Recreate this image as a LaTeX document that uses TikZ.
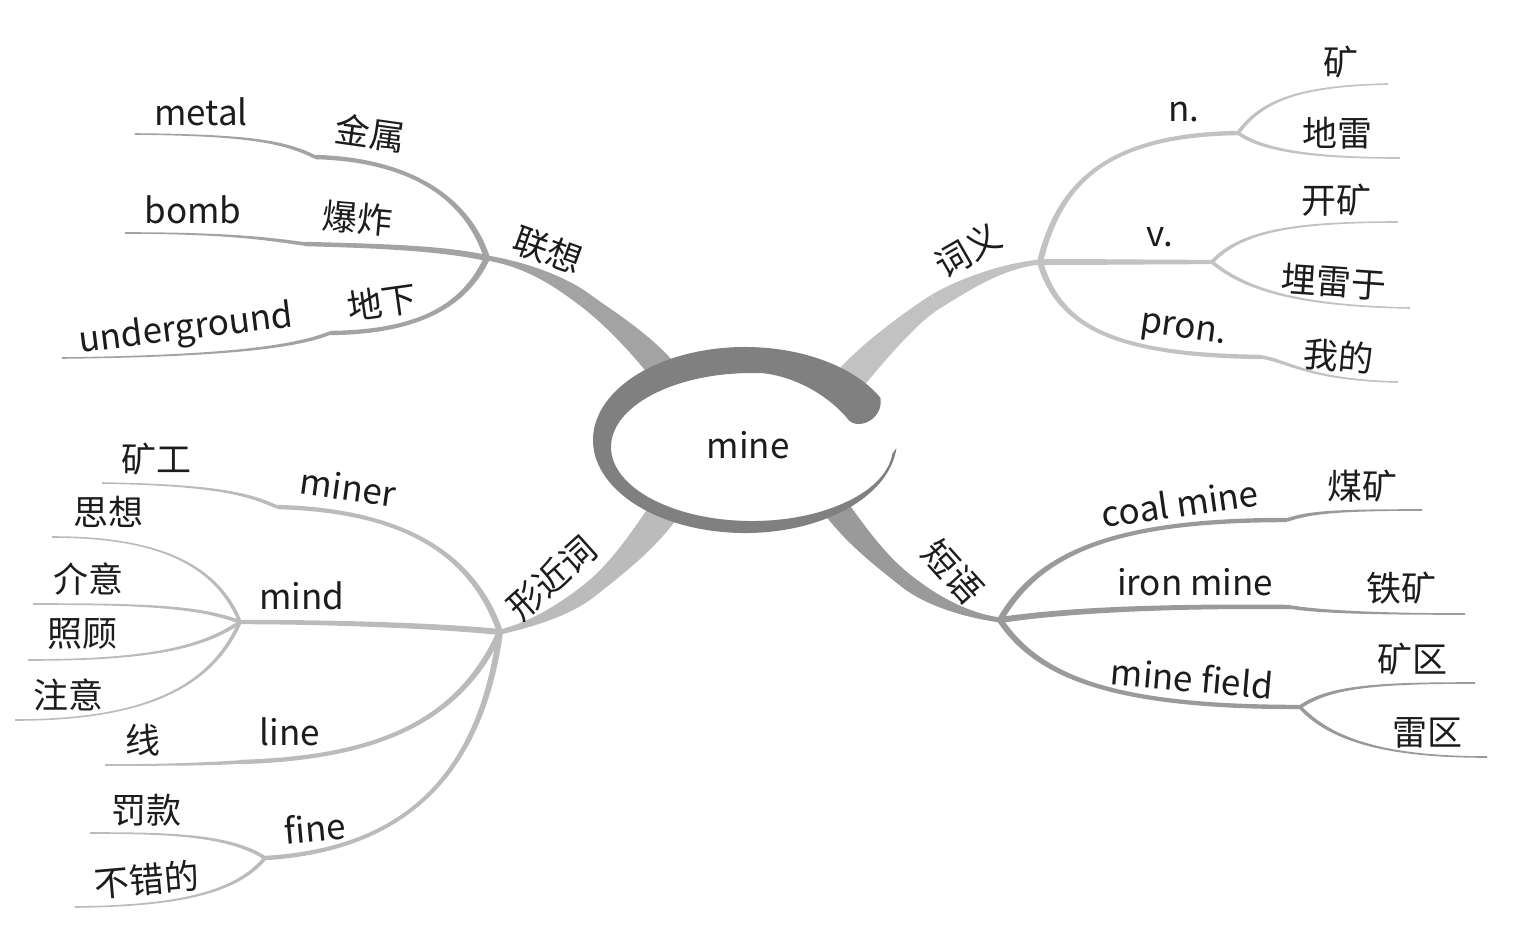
\documentclass[tikz,border=0pt]{standalone}
\usepackage{fontspec}
\setmainfont{Noto Sans CJK SC}
\usetikzlibrary{calc}
\definecolor{ringgray}{RGB}{128,128,128}
\definecolor{assocgray}{RGB}{163,163,163}
\definecolor{sensegray}{RGB}{194,194,194}
\definecolor{lookgray}{RGB}{187,187,187}
\definecolor{phrasegray}{RGB}{154,154,154}
\definecolor{inkgray}{RGB}{28,28,28}
% tapered branch: colour, from, control, control, to, half width at from, half width at to
\newcommand{\twig}[7]{%
  \path ($(#2)!#6pt!90:(#3)$) coordinate (tw1) ($(#2)!#6pt!-90:(#3)$) coordinate (tw2)
    ($(#5)!#7pt!-90:(#4)$) coordinate (tw3) ($(#5)!#7pt!90:(#4)$) coordinate (tw4);
  \fill[#1] (tw1) .. controls ($(#3)+(tw1)-(#2)$) and ($(#4)+(tw3)-(#5)$) .. (tw3) -- (tw4)
    .. controls ($(#4)+(tw4)-(#5)$) and ($(#3)+(tw2)-(#2)$) .. (tw2) -- cycle;}
\tikzset{
  lbl/.style={font=\fontsize{35}{40}\selectfont,text=inkgray,inner sep=0pt},
}
\begin{document}
\begin{tikzpicture}[x=1pt,y=-1pt]
  \useasboundingbox (0,0) rectangle (1519,930);
  \coordinate (assoc) at (487,258); \coordinate (sense) at (1040,262); \coordinate (look) at (500,632); \coordinate (phrase) at (1000,620);
  \coordinate (assocroot) at (670,380); \coordinate (senseroot) at (845,385); \coordinate (lookroot) at (668,505); \coordinate (phraseroot) at (830,500);
  \coordinate (assocmid) at (585,300); \coordinate (sensemid) at (935,302); \coordinate (lookmid) at (590,590); \coordinate (phrasemid) at (905,580);
  \coordinate (fk-gold) at (315,157); \coordinate (fk-blast) at (305,244); \coordinate (fk-below) at (330,333);
  \coordinate (fk-n) at (1238,133); \coordinate (fk-v) at (1212,262); \coordinate (fk-pron) at (1262,357);
  \coordinate (fk-miner) at (277,507); \coordinate (fk-mind) at (240,622); \coordinate (fk-line) at (240,762); \coordinate (fk-fine) at (265,858);
  \coordinate (fk-coal) at (1287,520); \coordinate (fk-iron) at (1290,607); \coordinate (fk-field) at (1300,707);
  \coordinate (e-metal) at (135,134); \coordinate (e-bomb) at (125,233); \coordinate (e-under) at (62,358);
  \coordinate (e-kuang) at (1388,84); \coordinate (e-dilei) at (1400,158); \coordinate (e-kaikuang) at (1398,222); \coordinate (e-mailei) at (1410,308); \coordinate (e-wode) at (1398,382);
  \coordinate (e-kuanggong) at (102,483); \coordinate (e-sixiang) at (52,537); \coordinate (e-jieyi) at (33,604); \coordinate (e-zhaogu) at (28,660); \coordinate (e-zhuyi) at (15,720);
  \coordinate (e-xian) at (105,765); \coordinate (e-fakuan) at (90,833); \coordinate (e-bucuo) at (75,907);
  \coordinate (e-meikuang) at (1422,510); \coordinate (e-tiekuang) at (1465,614); \coordinate (e-kuangqu) at (1475,683); \coordinate (e-leiqu) at (1487,757);

  \twig{assocgray}{assocroot}{645,345}{605,315}{assocmid}{14}{7.5} \twig{assocgray}{assocmid}{565,285}{530,265}{assoc}{7.5}{2.5}
  \twig{sensegray}{senseroot}{870,355}{910,318}{sensemid}{15}{8} \twig{sensegray}{sensemid}{960,287}{1000,266}{sense}{8}{2.5}
  \twig{lookgray}{lookroot}{645,540}{615,570}{lookmid}{15}{8} \twig{lookgray}{lookmid}{565,610}{530,625}{look}{8}{2.5}
  \twig{phrasegray}{phraseroot}{855,535}{880,560}{phrasemid}{13}{7.5} \twig{phrasegray}{phrasemid}{930,600}{965,615}{phrase}{7.5}{2.5}

  \twig{assocgray}{assoc}{470,205}{420,160}{fk-gold}{3}{2.2}
  \twig{assocgray}{fk-gold}{285,142}{250,135}{e-metal}{1.8}{0.8}
  \twig{assocgray}{assoc}{440,248}{380,246}{fk-blast}{3}{2.2}
  \twig{assocgray}{fk-blast}{275,240}{235,233}{e-bomb}{1.8}{0.8}
  \twig{assocgray}{assoc}{465,305}{420,332}{fk-below}{3}{2.2}
  \twig{assocgray}{fk-below}{300,345}{240,356}{e-under}{1.8}{0.8}

  \twig{sensegray}{sense}{1060,180}{1110,135}{fk-n}{3}{2.2}
  \twig{sensegray}{fk-n}{1262,100}{1300,86}{e-kuang}{1.8}{0.8}
  \twig{sensegray}{fk-n}{1265,152}{1320,158}{e-dilei}{1.8}{0.8}
  \twig{sensegray}{sense}{1100,262}{1160,262}{fk-v}{3}{2.2}
  \twig{sensegray}{fk-v}{1240,232}{1290,222}{e-kaikuang}{1.8}{0.8}
  \twig{sensegray}{fk-v}{1245,290}{1300,306}{e-mailei}{1.8}{0.8}
  \twig{sensegray}{sense}{1060,330}{1120,355}{fk-pron}{3}{2.2}
  \twig{sensegray}{fk-pron}{1290,362}{1310,380}{e-wode}{1.8}{0.8}

  \twig{lookgray}{look}{470,545}{390,510}{fk-miner}{3}{2.2}
  \twig{lookgray}{fk-miner}{250,495}{220,485}{e-kuanggong}{1.8}{0.8}
  \twig{lookgray}{look}{430,625}{320,622}{fk-mind}{3}{2.2}
  \twig{lookgray}{fk-mind}{215,560}{150,537}{e-sixiang}{1.8}{0.8}
  \twig{lookgray}{fk-mind}{200,607}{150,604}{e-jieyi}{1.8}{0.8}
  \twig{lookgray}{fk-mind}{200,650}{140,660}{e-zhaogu}{1.8}{0.8}
  \twig{lookgray}{fk-mind}{210,690}{140,720}{e-zhuyi}{1.8}{0.8}
  \twig{lookgray}{look}{460,720}{380,758}{fk-line}{3}{2.2}
  \twig{lookgray}{fk-line}{210,764}{170,765}{e-xian}{1.8}{0.8}
  \twig{lookgray}{look}{480,780}{400,850}{fk-fine}{3}{2.2}
  \twig{lookgray}{fk-fine}{230,835}{170,833}{e-fakuan}{1.8}{0.8}
  \twig{lookgray}{fk-fine}{235,895}{170,906}{e-bucuo}{1.8}{0.8}

  \twig{phrasegray}{phrase}{1040,550}{1120,520}{fk-coal}{3}{2.2}
  \twig{phrasegray}{fk-coal}{1310,512}{1340,510}{e-meikuang}{1.8}{0.8}
  \twig{phrasegray}{phrase}{1080,608}{1200,606}{fk-iron}{3}{2.2}
  \twig{phrasegray}{fk-iron}{1320,612}{1380,614}{e-tiekuang}{1.8}{0.8}
  \twig{phrasegray}{phrase}{1040,680}{1120,707}{fk-field}{3}{2.2}
  \twig{phrasegray}{fk-field}{1330,686}{1380,683}{e-kuangqu}{1.8}{0.8}
  \twig{phrasegray}{fk-field}{1335,745}{1400,757}{e-leiqu}{1.8}{0.8}

  \fill[white] (752,447) ellipse [x radius=141, y radius=74];
  \fill[ringgray] ($(745,440)+(-27:152 and 93)$) arc[start angle=-27, end angle=-355, x radius=152, y radius=93]
    -- ($(752,447)+(-355:141 and 74)$) arc[start angle=-355, end angle=-85, x radius=141, y radius=74]
    .. controls (800,378) and (830,398) .. (847,418) .. controls (856,432) and (884,420) .. cycle;
  \node[lbl] (mine) at (748,445) {mine};

  \node[lbl,rotate=-20] (lianxiang) at (548,250) {联想};
  \node[lbl,rotate=30] (ciyi) at (968,250) {词义};
  \node[lbl,rotate=42] (xingjinci) at (552,578) {形近词};
  \node[lbl,rotate=-48] (duanyu) at (953,572) {短语};
  \node[lbl,rotate=-8] (jinshu) at (370,133) {金属}; \node[lbl] (metal) at (201,112) {metal};
  \node[lbl,rotate=-5] (baozha) at (358,218) {爆炸}; \node[lbl] (bomb) at (193,210) {bomb};
  \node[lbl,rotate=8] (dixia) at (382,302) {地下}; \node[lbl,rotate=7] (underground) at (186,330) {underground};
  \node[lbl] (n) at (1184,112) {n.}; \node[lbl] (kuang) at (1341,62) {矿}; \node[lbl] (dilei) at (1337,133) {地雷};
  \node[lbl] (v) at (1160,237) {v.}; \node[lbl] (kaikuang) at (1336,200) {开矿}; \node[lbl,rotate=-4] (mailei) at (1334,282) {埋雷于};
  \node[lbl,rotate=-8] (pron) at (1183,332) {pron.}; \node[lbl,rotate=-5] (wode) at (1339,356) {我的};
  \node[lbl,rotate=-8] (miner) at (348,487) {miner}; \node[lbl] (kuanggong) at (156,459) {矿工};
  \node[lbl] (mind) at (302,596) {mind}; \node[lbl] (sixiang) at (108,512) {思想}; \node[lbl] (jieyi) at (88,579) {介意};
  \node[lbl] (zhaogu) at (82,634) {照顾}; \node[lbl] (zhuyi) at (68,695) {注意};
  \node[lbl] (line) at (290,732) {line}; \node[lbl] (xian) at (143,740) {线};
  \node[lbl,rotate=5] (fine) at (315,828) {fine}; \node[lbl] (fakuan) at (146,810) {罚款}; \node[lbl,rotate=5] (bucuo) at (147,880) {不错的};
  \node[lbl,rotate=8] (coalmine) at (1180,503) {coal mine}; \node[lbl] (meikuang) at (1362,486) {煤矿};
  \node[lbl] (ironmine) at (1195,582) {iron mine}; \node[lbl] (tiekuang) at (1401,588) {铁矿};
  \node[lbl,rotate=-5] (minefield) at (1192,678) {mine field}; \node[lbl] (kuangqu) at (1412,659) {矿区}; \node[lbl] (leiqu) at (1427,733) {雷区};
\end{tikzpicture}
\end{document}
